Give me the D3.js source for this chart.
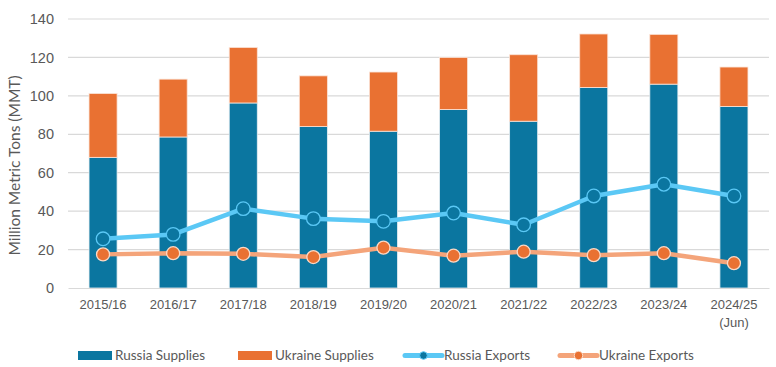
<!DOCTYPE html>
<html><head><meta charset="utf-8">
<script src="https://cdn.jsdelivr.net/npm/d3@7"></script>
<style>body{margin:0;background:#fff}svg{display:block;font-family:Lato,"Open Sans",sans-serif}</style>
</head><body><svg id="c" width="776" height="367"></svg>
<script>
const categories = ["2015/16","2016/17","2017/18","2018/19","2019/20","2020/21","2021/22","2022/23","2023/24","2024/25"];
const categoryNotes = ["","","","","","","","","","(Jun)"];
const russiaSupplies = [68.0, 78.6, 96.3, 84.0, 81.6, 92.9, 86.8, 104.4, 106.1, 94.5];
const ukraineSupplies = [33.2, 30.1, 28.9, 26.4, 30.8, 27.1, 34.6, 27.8, 25.9, 20.5];
const russiaExports = [25.6, 27.9, 41.3, 36.1, 34.7, 39.0, 32.9, 47.9, 54.0, 47.9];
const ukraineExports = [17.5, 18.1, 17.8, 16.1, 21.0, 16.8, 18.9, 17.1, 18.1, 12.9];
const yTicks = [0,20,40,60,80,100,120,140];

const C = {rs:"#0B76A0", us:"#E97132", re:"#5BC8F5", ue:"#F4A47A", grid:"#d9d9d9", text:"#595959"};
const svg = d3.select("#c");
const m = {l:68, r:7, t:19, b:79};
const W = 776, H = 367;
const x = d3.scaleBand().domain(categories).range([m.l, W-m.r]).paddingInner(0.6).paddingOuter(0.3);
const y = d3.scaleLinear().domain([0,140]).range([H-m.b, m.t]);

// grid
svg.append("g").selectAll("line").data(yTicks.slice(1)).join("line")
  .attr("x1", m.l).attr("x2", W-m.r).attr("y1", d=>y(d)).attr("y2", d=>y(d))
  .attr("stroke", C.grid).attr("stroke-width", 1.2);

// y axis
const ya = svg.append("g").attr("transform", `translate(${m.l},0)`)
  .call(d3.axisLeft(y).tickValues(yTicks).tickSize(0).tickPadding(14));
ya.select(".domain").remove();
ya.selectAll("text").attr("font-size", 14.5).attr("fill", C.text);

svg.append("text").attr("transform", `translate(20,${(y(0)+y(140))/2+12}) rotate(-90)`)
  .attr("text-anchor","middle").attr("font-size", 15.5).attr("fill", C.text)
  .text("Million Metric Tons (MMT)");

// bars
const bw = x.bandwidth();
const g = svg.append("g");
g.selectAll("rect.rs").data(categories).join("rect").attr("class","rs")
  .attr("x", d=>x(d)).attr("width", bw)
  .attr("y", (d,i)=>y(russiaSupplies[i])).attr("height", (d,i)=>y(0)-y(russiaSupplies[i]))
  .attr("fill", C.rs).attr("stroke","#e8eef2").attr("stroke-width",0.8);
g.selectAll("rect.us").data(categories).join("rect").attr("class","us")
  .attr("x", d=>x(d)).attr("width", bw)
  .attr("y", (d,i)=>y(russiaSupplies[i]+ukraineSupplies[i])).attr("height", (d,i)=>y(russiaSupplies[i])-y(russiaSupplies[i]+ukraineSupplies[i]))
  .attr("fill", C.us).attr("stroke","#fbe3d6").attr("stroke-width",0.8);

// x axis
const xa = svg.append("g").attr("transform", `translate(0,${y(0)})`)
  .call(d3.axisBottom(x).tickSize(0).tickPadding(12));
xa.select(".domain").attr("stroke", "#d9d9d9").attr("stroke-width",1.2);
xa.selectAll("text").attr("font-size", 13).attr("fill", C.text);
xa.selectAll(".tick").append("text").attr("y", 30).attr("dy","0.71em").attr("font-size",13)
  .attr("fill", C.text).attr("text-anchor","middle").text((d,i)=>categoryNotes[i]);

const cx = d=>x(d)+bw/2;
const line = d3.line().x(d=>d[0]).y(d=>d[1]);
function drawLine(vals, col, mFill, mStroke, r){
  const pts = categories.map((c,i)=>[cx(c), y(vals[i])]);
  svg.append("path").attr("d", line(pts)).attr("fill","none").attr("stroke", col).attr("stroke-width",4.5).attr("stroke-linejoin","round");
  svg.append("g").selectAll("circle").data(pts).join("circle")
    .attr("cx", d=>d[0]).attr("cy", d=>d[1]).attr("r", r)
    .attr("fill", mFill).attr("stroke", mStroke).attr("stroke-width",1.3);
}
drawLine(russiaExports, C.re, C.rs, C.re, 6.8);
drawLine(ukraineExports, C.ue, C.us, "#fbd9c6", 6.5);

// legend
const lg = svg.append("g").attr("font-size", 13.5).attr("fill", C.text);
const ly = 355.5;
function lrect(x0, col, label){
  lg.append("rect").attr("x", x0).attr("y", ly-4.5).attr("width", 34).attr("height", 9).attr("fill", col);
  lg.append("text").attr("x", x0+37).attr("y", ly).attr("dy","0.35em").attr("fill",C.text).text(label);
}
function lline(x0, col, mFill, mStroke, r, label){
  lg.append("line").attr("x1", x0).attr("x2", x0+37).attr("y1", ly).attr("y2", ly).attr("stroke", col).attr("stroke-width",5).attr("stroke-linecap","round");
  lg.append("circle").attr("cx", x0+18.5).attr("cy", ly).attr("r", r).attr("fill", mFill).attr("stroke", mStroke);
  lg.append("text").attr("x", x0+39).attr("y", ly).attr("dy","0.35em").attr("fill",C.text).text(label);
}
lrect(78, C.rs, "Russia Supplies");
lrect(238, C.us, "Ukraine Supplies");
lline(405, C.re, C.rs, C.re, 3.8, "Russia Exports");
lline(560, C.ue, C.us, "#fbd9c6", 4.2, "Ukraine Exports");
</script></body></html>
